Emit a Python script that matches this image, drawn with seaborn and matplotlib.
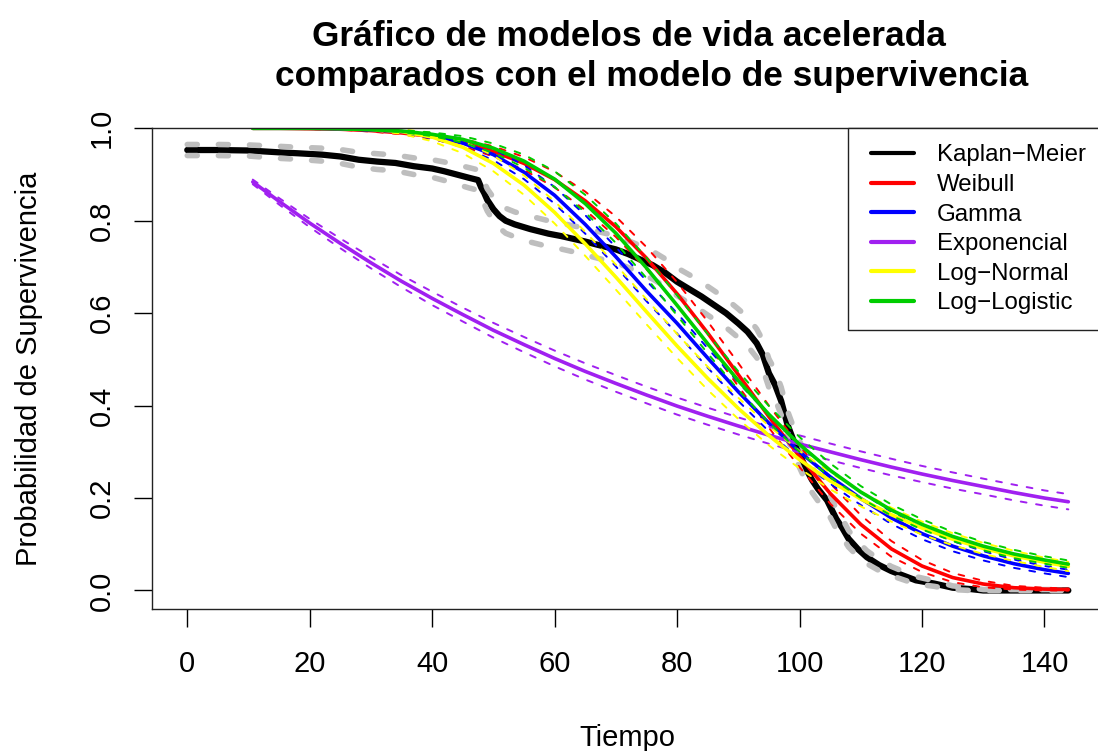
import numpy as np
import matplotlib
matplotlib.use("Agg")
import matplotlib.pyplot as plt
import seaborn as sns
from matplotlib.lines import Line2D
from matplotlib.patches import Rectangle

# ---------------- data ----------------
# Kaplan-Meier estimate (time, survival) and half-width of its confidence band
km_time = [0, 5, 10, 15, 18, 22, 25, 28, 31, 34, 37, 40, 42, 44, 46, 47.5, 48, 48.5,
           49, 50, 51, 52, 53.5, 56, 59, 61, 63, 65, 67, 70, 72, 74, 76, 78, 80, 82,
           84, 86, 88, 90, 91.5, 93, 94, 95, 96, 97, 98, 99, 100, 101, 102, 103,
           104.5, 106, 107, 108, 109.5, 111, 113, 115, 117, 119, 122, 125, 128, 130, 143.9]
km_surv = [0.953, 0.953, 0.952, 0.948, 0.946, 0.943, 0.939, 0.932, 0.928, 0.925,
           0.918, 0.913, 0.907, 0.900, 0.893, 0.888, 0.872, 0.860, 0.845, 0.825,
           0.810, 0.800, 0.792, 0.782, 0.772, 0.767, 0.761, 0.755, 0.748, 0.738,
           0.728, 0.716, 0.704, 0.688, 0.668, 0.652, 0.636, 0.618, 0.600, 0.578,
           0.560, 0.535, 0.510, 0.470, 0.445, 0.410, 0.360, 0.325, 0.295, 0.265,
           0.240, 0.220, 0.195, 0.155, 0.135, 0.112, 0.090, 0.072, 0.055, 0.042,
           0.032, 0.022, 0.015, 0.006, 0.003, 0.000, 0.000]
km_halfwidth = [0.012, 0.012, 0.012, 0.013, 0.013, 0.014, 0.015, 0.016, 0.017, 0.017,
                0.018, 0.019, 0.020, 0.021, 0.022, 0.022, 0.023, 0.024, 0.024, 0.025,
                0.026, 0.027, 0.027, 0.028, 0.028, 0.028, 0.028, 0.029, 0.029, 0.029,
                0.029, 0.030, 0.030, 0.030, 0.030, 0.031, 0.031, 0.031, 0.031, 0.031,
                0.031, 0.031, 0.031, 0.031, 0.031, 0.030, 0.030, 0.029, 0.029, 0.028,
                0.027, 0.026, 0.024, 0.022, 0.020, 0.018, 0.016, 0.014, 0.012, 0.010,
                0.009, 0.008, 0.006, 0.004, 0.003, 0.002, 0.002]

# Time grid of the fitted accelerated failure time models
model_time = [10.7, 15, 20, 25, 30, 35, 40, 45, 50, 55, 60, 65, 70, 75, 80, 85, 90,
              95, 100, 105, 110, 115, 120, 125, 130, 135, 140, 143.9]

weibull_surv = [1.000, 1.000, 0.999, 0.998, 0.995, 0.990, 0.982, 0.969, 0.950, 0.924,
                0.889, 0.843, 0.787, 0.719, 0.642, 0.557, 0.467, 0.376, 0.290, 0.210,
                0.143, 0.090, 0.053, 0.028, 0.014, 0.006, 0.003, 0.002]
weibull_hw = [0.000, 0.000, 0.001, 0.001, 0.002, 0.003, 0.005, 0.008, 0.011, 0.014,
              0.017, 0.020, 0.022, 0.024, 0.025, 0.025, 0.025, 0.024, 0.023, 0.022,
              0.020, 0.017, 0.013, 0.010, 0.007, 0.004, 0.003, 0.002]

gamma_surv = [1.000, 1.000, 1.000, 0.999, 0.997, 0.993, 0.984, 0.968, 0.943, 0.905,
              0.855, 0.792, 0.722, 0.648, 0.578, 0.503, 0.430, 0.362, 0.300, 0.246,
              0.199, 0.157, 0.123, 0.096, 0.075, 0.058, 0.045, 0.037]
gamma_hw = [0.000, 0.000, 0.001, 0.001, 0.002, 0.003, 0.006, 0.009, 0.012, 0.015,
            0.018, 0.020, 0.021, 0.022, 0.022, 0.021, 0.020, 0.018, 0.017, 0.015,
            0.014, 0.013, 0.012, 0.011, 0.010, 0.009, 0.008, 0.008]

expo_surv = [0.884, 0.842, 0.795, 0.751, 0.709, 0.669, 0.632, 0.597, 0.563, 0.532,
             0.502, 0.474, 0.448, 0.423, 0.399, 0.377, 0.356, 0.336, 0.317, 0.300,
             0.283, 0.267, 0.252, 0.238, 0.225, 0.212, 0.200, 0.192]
expo_hw = [0.005, 0.007, 0.009, 0.0105, 0.012, 0.013, 0.0145, 0.015, 0.016, 0.0165,
           0.017, 0.0175, 0.018, 0.018, 0.0185, 0.0185, 0.0185, 0.0185, 0.0185, 0.018,
           0.018, 0.018, 0.0175, 0.0175, 0.017, 0.017, 0.0165, 0.0165]

lognorm_surv = [1.000, 1.000, 1.000, 1.000, 0.998, 0.993, 0.981, 0.959, 0.924, 0.877,
                0.818, 0.750, 0.678, 0.603, 0.529, 0.459, 0.394, 0.335, 0.283, 0.237,
                0.198, 0.164, 0.135, 0.111, 0.091, 0.075, 0.061, 0.052]
lognorm_hw = [0.000, 0.000, 0.000, 0.001, 0.002, 0.005, 0.009, 0.013, 0.017, 0.021,
              0.024, 0.026, 0.027, 0.027, 0.026, 0.025, 0.023, 0.021, 0.019, 0.018,
              0.016, 0.015, 0.014, 0.013, 0.012, 0.011, 0.010, 0.010]

loglogis_surv = [1.000, 1.000, 1.000, 0.999, 0.997, 0.994, 0.987, 0.976, 0.957, 0.929,
                 0.890, 0.837, 0.773, 0.698, 0.617, 0.534, 0.454, 0.381, 0.316, 0.260,
                 0.213, 0.174, 0.143, 0.117, 0.096, 0.079, 0.066, 0.057]
loglogis_hw = [0.000, 0.000, 0.000, 0.001, 0.001, 0.002, 0.004, 0.007, 0.010, 0.014,
               0.017, 0.019, 0.021, 0.022, 0.022, 0.021, 0.020, 0.018, 0.016, 0.015,
               0.013, 0.012, 0.011, 0.010, 0.009, 0.009, 0.008, 0.008]

legend_labels = ["Kaplan\u2212Meier", "Weibull", "Gamma", "Exponencial",
                 "Log\u2212Normal", "Log\u2212Logistic"]
legend_colors = ["black", "#FF0000", "#0000FF", "#A020F0", "#FFFF00", "#00CD00"]

x_ticks = [0, 20, 40, 60, 80, 100, 120, 140]
y_ticks = [0.0, 0.2, 0.4, 0.6, 0.8, 1.0]
y_tick_labels = ["0.0", "0.2", "0.4", "0.6", "0.8", "1.0"]

title_line1 = "Gráfico de modelos de vida acelerada"
title_line2 = "comparados con el modelo de supervivencia"

# ---------------- style ----------------
sns.set_style("ticks")
plt.rcParams["font.family"] = ["Liberation Sans", "DejaVu Sans"]
plt.rcParams["text.color"] = "black"
plt.rcParams["axes.labelcolor"] = "black"
plt.rcParams["xtick.color"] = "black"
plt.rcParams["ytick.color"] = "black"
plt.rcParams["lines.solid_capstyle"] = "round"
plt.rcParams["lines.dash_capstyle"] = "round"
plt.rcParams["lines.solid_joinstyle"] = "round"
plt.rcParams["lines.dash_joinstyle"] = "round"

W, H = 1098, 751
fig = plt.figure(figsize=(W / 100, H / 100), dpi=100)
ax_left, ax_right, ax_top, ax_bottom = 152.0, 1103.6, 128.3, 608.7
ax = fig.add_axes([ax_left / W, (H - ax_bottom) / H,
                   (ax_right - ax_left) / W, (ax_bottom - ax_top) / H])

# ---------------- Kaplan-Meier ----------------
km_t = np.array(km_time)
km_s = np.array(km_surv)
km_hw = np.array(km_halfwidth)
sns.lineplot(x=km_t, y=km_s, color="black", lw=4.5, ax=ax,
             estimator=None, sort=False, legend=False)
for band in (np.minimum(km_s + km_hw, 1.0), np.maximum(km_s - km_hw, 0.0)):
    sns.lineplot(x=km_t, y=band, color="#BEBEBE", lw=4.0, ls=(0, (1.8, 3.8)),
                 ax=ax, estimator=None, sort=False, legend=False)

# ---------------- parametric models ----------------
models = [
    (weibull_surv, weibull_hw, "#FF0000"),
    (gamma_surv, gamma_hw, "#0000FF"),
    (expo_surv, expo_hw, "#A020F0"),
    (lognorm_surv, lognorm_hw, "#FFFF00"),
    (loglogis_surv, loglogis_hw, "#00CD00"),
]
mt = np.array(model_time)
for surv, hw, col in models:
    s = np.array(surv)
    h = np.array(hw)
    sns.lineplot(x=mt, y=s, color=col, lw=2.6, ax=ax,
                 estimator=None, sort=False, legend=False)
    for band in (np.minimum(s + h, 1.0), np.maximum(s - h, 0.0)):
        sns.lineplot(x=mt, y=band, color=col, lw=1.4, ls=(0, (3, 5)),
                     ax=ax, estimator=None, sort=False, legend=False)

# ---------------- axes ----------------
ax.set_xlim(-5.76, 149.66)
ax.set_ylim(-0.0394, 1.0)
ax.set_xticks(x_ticks)
ax.set_xticklabels([str(v) for v in x_ticks])
ax.set_yticks(y_ticks)
ax.set_yticklabels(y_tick_labels)
for side in ["left", "right", "top", "bottom"]:
    ax.spines[side].set_visible(True)
    ax.spines[side].set_color("#222222")
    ax.spines[side].set_linewidth(1.0)
ax.tick_params(direction="out", length=13, width=1.0, colors="black", labelsize=21)
ax.tick_params(axis="x", pad=17)
ax.tick_params(axis="y", pad=13)
for lab in ax.get_yticklabels():
    lab.set_rotation(90)
    lab.set_va("center")

ax.set_xlabel("Tiempo", fontsize=21)
ax.xaxis.set_label_coords(0.5, (H - 745.5 - (H - ax_bottom)) / (ax_bottom - ax_top))
ax.xaxis.label.set_va("baseline")
ax.set_ylabel("Probabilidad de Supervivencia", fontsize=21)
ax.yaxis.set_label_coords((43 - ax_left) / (ax_right - ax_left), 0.5)

# ---------------- title ----------------
fig.text(629 / W, 1 - 46 / H, title_line1, ha="center", va="baseline",
         fontsize=25.4, fontweight="bold")
fig.text(652 / W, 1 - 86 / H, title_line2, ha="center", va="baseline",
         fontsize=25.4, fontweight="bold")

# ---------------- legend ----------------
def ax_x(px):
    return (px - ax_left) / (ax_right - ax_left)

def ax_y(py):
    return (ax_bottom - py) / (ax_bottom - ax_top)

frame = Rectangle((ax_x(848.3), ax_y(330)), 1.05 - ax_x(848.3), ax_y(ax_top) - ax_y(330),
                  transform=ax.transAxes, facecolor="white", edgecolor="#222222",
                  lw=1.0, zorder=4.5, clip_on=False)
ax.add_patch(frame)
handles = [Line2D([], [], color=c, lw=3.0) for c in legend_colors]
leg = ax.legend(handles, legend_labels, loc="upper left",
                bbox_to_anchor=(ax_x(871), ax_y(144.5)), frameon=False,
                borderpad=0, borderaxespad=0, fontsize=17.25,
                handlelength=1.79, handletextpad=0.96, labelspacing=0.315)
leg.set_zorder(5)

fig.savefig("out.png", dpi=100)
